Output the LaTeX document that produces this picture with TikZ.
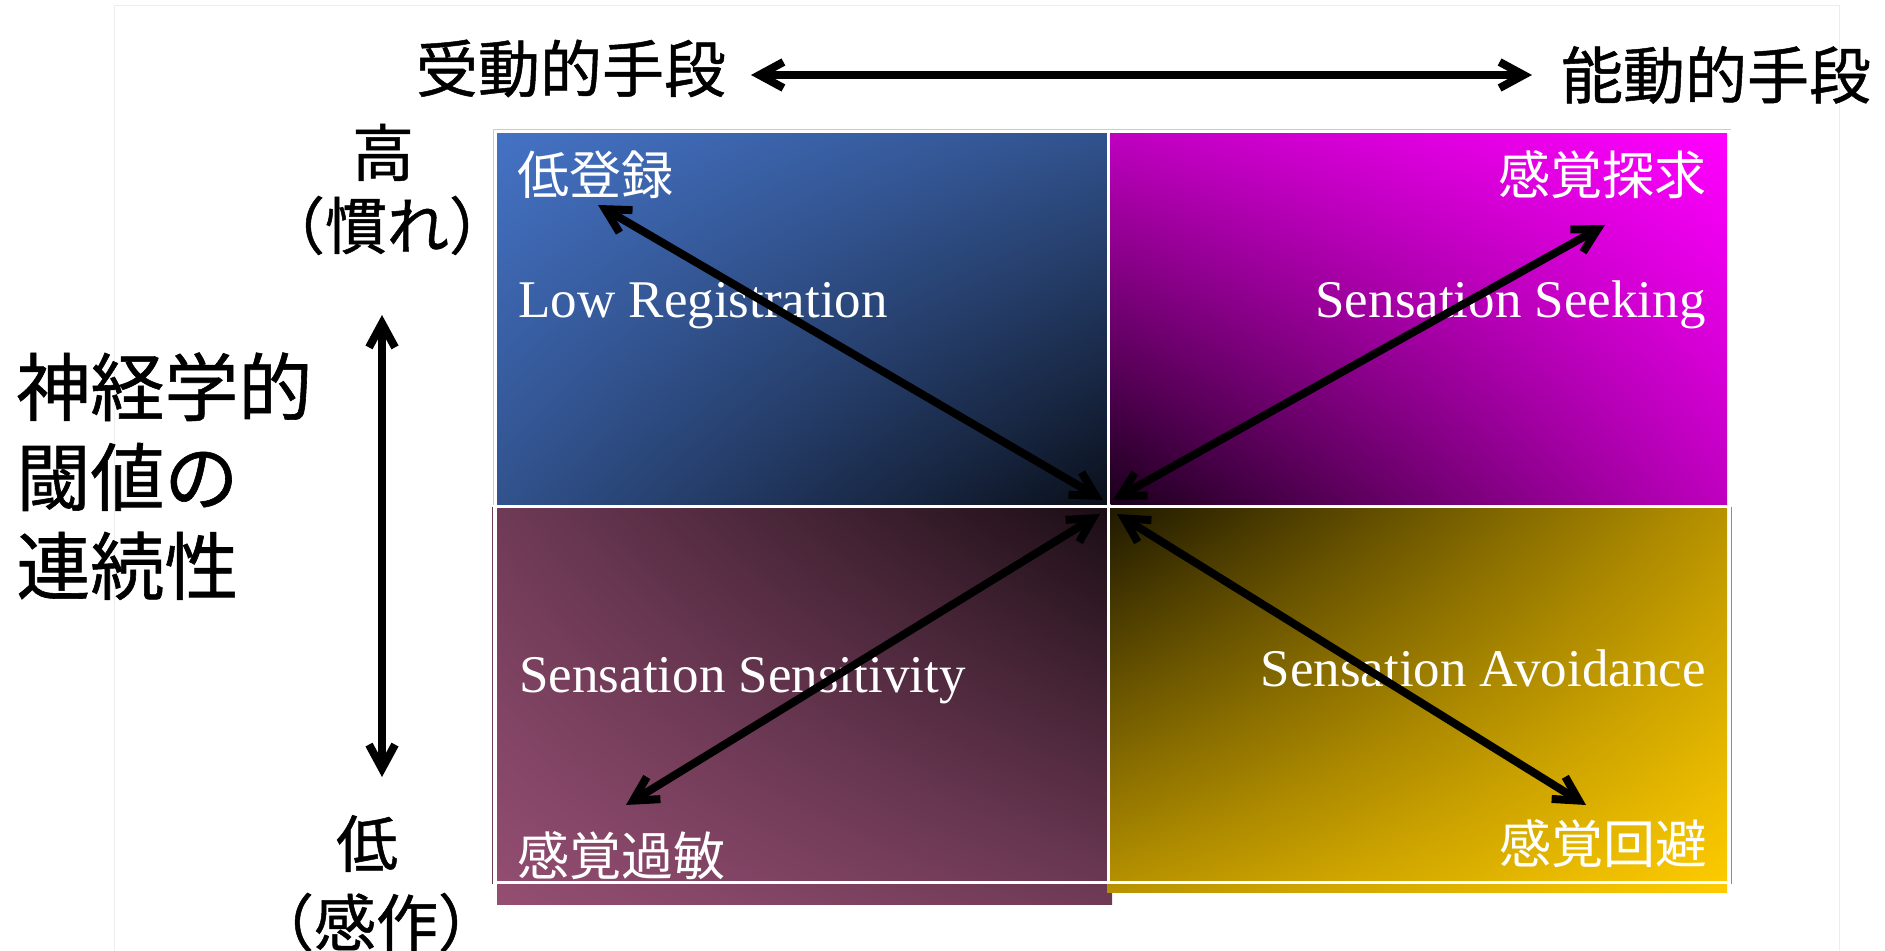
\documentclass[tikz,border=0pt]{standalone}
\usepackage{fontspec}
\setmainfont{Liberation Serif}
\newfontfamily\jp{Noto Sans CJK JP}
\newfontfamily\jpb[FakeBold=0.8]{Noto Sans CJK JP}
\usetikzlibrary{arrows.meta,shadings}
\definecolor{tlA}{HTML}{4472C4}\definecolor{tlM}{HTML}{31528D}\definecolor{tlD}{HTML}{0A0F1A}
\definecolor{trA}{HTML}{FF00FF}\definecolor{trM}{HTML}{BF00BF}\definecolor{trD}{HTML}{1A001A}
\definecolor{blA}{HTML}{944E72}\definecolor{blM}{HTML}{6F3A56}\definecolor{blD}{HTML}{1A0D14}
\definecolor{brA}{HTML}{FFCC00}\definecolor{brM}{HTML}{B89300}\definecolor{brD}{HTML}{1E1800}
\begin{document}
\begin{tikzpicture}[x=0.5pt,y=-0.5pt,
  dbl/.style={{Straight Barb[length=12pt,width=13pt]}-{Straight Barb[length=12pt,width=13pt]},
    line width=4pt, line cap=round, line join=round, draw=black},
  en/.style={text=white, font=\fontsize{26.5}{26.5}\selectfont, inner sep=0pt},
  jw/.style={text=white, font=\jp\fontsize{26}{26}\selectfont, inner sep=0pt},
  jtop/.style={text=black, font=\jpb\fontsize{31}{31}\selectfont, inner sep=0pt, anchor=base},
  jside/.style={text=black, font=\jpb\fontsize{31}{31}\selectfont, inner sep=0pt, anchor=base},
  jbig/.style={text=black, font=\jpb\fontsize{37}{37}\selectfont, inner sep=0pt, anchor=base west},
  wline/.style={draw=white, line width=1.5pt}]
\useasboundingbox (0,0) rectangle (1885,951);
% faint frame
\draw[black!7, line width=0.5pt] (114,6) rectangle (1839,980);
% quadrant fills
\shade[upper left=tlA, upper right=tlM, lower left=tlM, lower right=tlD] (497,133) rectangle (1107,505);
\shade[upper left=trM, upper right=trA, lower left=trD, lower right=trM] (1110.5,133) rectangle (1727,505);
\shade[upper left=blM, upper right=blD, lower left=blA, lower right=blM] (497,508) rectangle (1112,904);
\shade[upper left=brD, upper right=brM, lower left=brM, lower right=brA] (1107,508) rectangle (1727,892);
% outer edges
\draw[gray!40, line width=0.5pt] (493.3,505) -- (493.3,129.3) -- (1730.7,129.3) -- (1730.7,505);
\draw[blM, line width=0.5pt] (492.7,507) -- (492.7,883.5);
\draw[brM, line width=0.6pt] (1731.5,507) -- (1731.5,883.7);
\draw[brM, line width=0.5pt] (1107,509) -- (1107,883);
% white outlines
\draw[wline] (495,131.5) rectangle (1108.5,506.5);
\draw[wline] (1108.5,131.5) rectangle (1729,506.5);
\draw[wline] (495,506.5) rectangle (1108.5,882);
\draw[wline] (1108.5,506.5) rectangle (1729.8,882);
% quadrant texts
\node[jw, anchor=base west] (lrJ) at (517,194.5) {低登録};
\node[en, anchor=base west] (lrE) at (518,318) {Low Registration};
\node[jw, anchor=base east] (ssJ) at (1707,194.5) {感覚探求};
\node[en, anchor=base east] (ssE) at (1706,318) {Sensation Seeking};
\node[en, anchor=base west] (snE) at (519,692) {Sensation Sensitivity};
\node[jw, anchor=base west] (snJ) at (517,875.5) {感覚過敏};
\node[en, anchor=base east] (saE) at (1706,686) {Sensation Avoidance};
\node[jw, anchor=base east] (saJ) at (1708,863.5) {感覚回避};
% outside texts
\node[jtop] (passive) at (571,92) {受動的手段};
\node[jtop] (active) at (1716,98.5) {能動的手段};
\node[jside] (hi) at (383,176) {高};
\node[jside] (hiSub) at (387,249) {（慣れ）};
\node[jside] (lo) at (367,867) {低};
\node[jside] (loSub) at (376,946) {（感作）};
\node[jbig] (t1) at (16,415) {神経学的};
\node[jbig] (t2) at (16,505) {閾値の};
\node[jbig] (t3) at (16,594) {連続性};
% arrow end points
\coordinate (hL) at (751,75);
\coordinate (hR) at (1532,75);
\coordinate (vT) at (382,315);
\coordinate (vB) at (382,777);
\coordinate (aTL) at (598,205);
\coordinate (cTL) at (1103,500);
\coordinate (aTR) at (1605,225);
\coordinate (cTR) at (1113,500);
\coordinate (aBL) at (626,805);
\coordinate (cBL) at (1100,514);
\coordinate (aBR) at (1586,805);
\coordinate (cBR) at (1117,514);
% arrows
\draw[dbl] (hL) -- (hR);
\draw[dbl] (vT) -- (vB);
\draw[dbl] (aTL) -- (cTL);
\draw[dbl] (aTR) -- (cTR);
\draw[dbl] (aBL) -- (cBL);
\draw[dbl] (aBR) -- (cBR);
\end{tikzpicture}
\end{document}
